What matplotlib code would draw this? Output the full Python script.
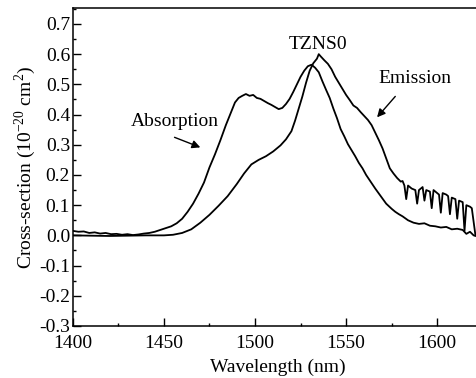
"""
Sections efficaces d'absorption et d'émission - TZNS0
"""

import matplotlib
matplotlib.use("Agg")
import matplotlib.pyplot as plt
from matplotlib.ticker import MultipleLocator

# absorption
abs_wl = [1400, 1403, 1406, 1409, 1412, 1415, 1418, 1421, 1424, 1427, 1430,
          1433, 1436, 1439, 1442, 1445, 1448, 1451, 1454, 1457, 1460, 1463,
          1466, 1469, 1472, 1475, 1478, 1481, 1484, 1487, 1489, 1491, 1493,
          1495, 1497, 1499, 1501, 1503, 1505, 1507, 1509, 1511, 1513, 1515,
          1517, 1519, 1521, 1523, 1525, 1527, 1529, 1531, 1533, 1535, 1537,
          1539, 1541, 1543, 1545, 1547, 1549, 1551, 1553, 1555, 1557, 1559,
          1561, 1563, 1566, 1569, 1572, 1575, 1577, 1579, 1581, 1584, 1587,
          1590, 1593, 1596, 1599, 1602, 1605, 1608, 1611, 1614, 1616, 1618,
          1620, 1623]
abs_val = [0.015, 0.012, 0.013, 0.008, 0.010, 0.006, 0.008, 0.004, 0.005,
           0.002, 0.004, 0.001, 0.003, 0.006, 0.008, 0.012, 0.018, 0.024,
           0.030, 0.040, 0.055, 0.078, 0.105, 0.138, 0.175, 0.225, 0.268,
           0.315, 0.365, 0.410, 0.440, 0.455, 0.462, 0.468, 0.462, 0.465,
           0.455, 0.452, 0.445, 0.438, 0.432, 0.425, 0.418, 0.422, 0.435,
           0.452, 0.475, 0.500, 0.525, 0.545, 0.560, 0.565, 0.555, 0.540,
           0.510, 0.482, 0.455, 0.420, 0.388, 0.352, 0.328, 0.302, 0.282,
           0.262, 0.240, 0.222, 0.200, 0.182, 0.155, 0.130, 0.105, 0.088,
           0.078, 0.070, 0.063, 0.050, 0.042, 0.038, 0.040, 0.032, 0.030,
           0.026, 0.028, 0.020, 0.022, 0.018, 0.005, 0.012, 0.000, -0.005]

# émission
emi_wl = [1400, 1420, 1440, 1450, 1455, 1460, 1465, 1470, 1475, 1480, 1485,
          1490, 1494, 1498, 1502, 1506, 1510, 1514, 1517, 1520, 1522, 1524,
          1526, 1528, 1530, 1532, 1534, 1535, 1536, 1538, 1540, 1542, 1544,
          1546, 1548, 1550, 1552, 1554, 1556, 1558, 1560, 1562, 1564, 1566,
          1568, 1570, 1572, 1574, 1576, 1578, 1580, 1581, 1582, 1583, 1584,
          1586, 1588, 1589, 1590, 1592, 1593, 1594, 1596, 1597, 1598, 1600,
          1601, 1602, 1603, 1605, 1606, 1607, 1608, 1610, 1611, 1612, 1614,
          1615, 1616, 1618, 1619, 1620, 1621]
emi_val = [0.0, -0.002, 0.0, 0.0, 0.002, 0.008, 0.020, 0.042, 0.068, 0.098,
           0.130, 0.170, 0.205, 0.235, 0.250, 0.262, 0.278, 0.298, 0.318,
           0.345, 0.380, 0.420, 0.460, 0.505, 0.545, 0.570, 0.585, 0.600,
           0.593, 0.580, 0.568, 0.550, 0.525, 0.505, 0.485, 0.465, 0.448,
           0.430, 0.422, 0.408, 0.395, 0.382, 0.365, 0.340, 0.315, 0.288,
           0.255, 0.222, 0.205, 0.190, 0.178, 0.180, 0.165, 0.120, 0.165,
           0.155, 0.150, 0.105, 0.150, 0.160, 0.115, 0.150, 0.145, 0.090,
           0.150, 0.140, 0.135, 0.075, 0.140, 0.135, 0.130, 0.070, 0.125,
           0.120, 0.055, 0.115, 0.110, 0.015, 0.100, 0.095, 0.090, 0.045,
           0.000]

plt.rcParams["font.family"] = ["Liberation Serif", "DejaVu Serif"]
plt.rcParams["mathtext.fontset"] = "custom"
plt.rcParams["mathtext.rm"] = "Liberation Serif"
plt.rcParams["font.size"] = 14

fig = plt.figure(figsize=(4.76, 3.78), dpi=100)
ax = fig.add_axes([0.153, 0.1376, 0.86, 0.8414])

ax.plot(abs_wl, abs_val, color="black", lw=1.3)
ax.plot(emi_wl, emi_val, color="black", lw=1.3)

ax.set_xlim(1400, 1624.7)
ax.set_ylim(-0.3, 0.753)
ax.xaxis.set_major_locator(MultipleLocator(50))
ax.xaxis.set_minor_locator(MultipleLocator(25))
ax.yaxis.set_major_locator(MultipleLocator(0.1))
ax.yaxis.set_minor_locator(MultipleLocator(0.05))
ax.yaxis.set_major_formatter(lambda v, p: f"{v:.1f}")
ax.tick_params(which="major", direction="in", length=5.5, width=1, pad=2)
ax.tick_params(which="minor", direction="in", length=2.5, width=1)
ax.tick_params(axis="x", which="major", pad=6.5)
for s in ax.spines.values():
    s.set_linewidth(1.1)

ax.set_xlabel("Wavelength (nm)", labelpad=5)
ax.set_ylabel(r"Cross-section (10$^{-20}$ cm$^{2}$)", labelpad=1)

# annotations
ax.text(1534.6, 0.632, "TZNS0", ha="center", va="center")
ax.text(1588, 0.52, "Emission", ha="center", va="center")
ax.text(1455.8, 0.377, "Absorption", ha="center", va="center")
ax.annotate("", xy=(1566, 0.384), xytext=(1578, 0.467),
            arrowprops=dict(arrowstyle="-|>", color="black", lw=1,
                            mutation_scale=12))
ax.annotate("", xy=(1471.4, 0.288), xytext=(1454.4, 0.328),
            arrowprops=dict(arrowstyle="-|>", color="black", lw=1,
                            mutation_scale=12))

fig.savefig("out.png", dpi=100)
